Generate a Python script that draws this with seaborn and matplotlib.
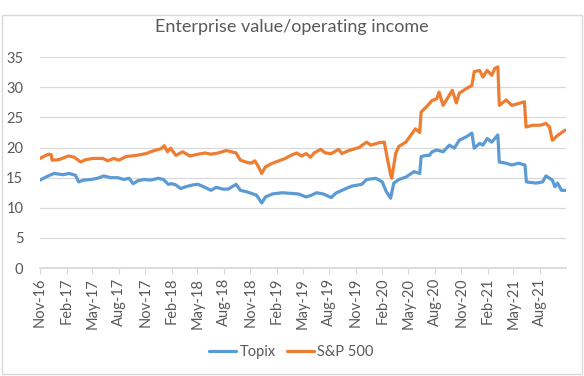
import pandas as pd
import seaborn as sns
import matplotlib.pyplot as plt
import matplotlib.dates as mdates
from matplotlib.patches import Rectangle

# values
topix_dates = [
    "2016-11-01", "2016-11-21", "2016-12-19", "2017-01-20", "2017-02-10", "2017-03-04",
    "2017-03-15", "2017-04-02", "2017-04-26", "2017-05-20", "2017-06-10", "2017-07-04",
    "2017-07-29", "2017-08-19", "2017-09-06", "2017-09-20", "2017-10-07", "2017-10-28",
    "2017-11-21", "2017-12-16", "2018-01-03", "2018-01-20", "2018-02-01", "2018-02-15",
    "2018-03-04", "2018-03-21", "2018-04-15", "2018-05-03", "2018-05-27", "2018-06-17",
    "2018-07-05", "2018-07-29", "2018-08-16", "2018-09-12", "2018-09-27", "2018-10-16",
    "2018-11-04", "2018-11-22", "2018-12-10", "2018-12-23", "2019-01-16", "2019-02-18",
    "2019-03-21", "2019-04-16", "2019-05-13", "2019-06-01", "2019-06-18", "2019-07-12",
    "2019-08-08", "2019-08-23", "2019-09-14", "2019-10-18", "2019-11-22", "2019-12-09",
    "2020-01-10", "2020-02-01", "2020-02-15", "2020-03-01", "2020-03-12", "2020-03-30",
    "2020-04-23", "2020-05-21", "2020-06-10", "2020-06-15", "2020-07-02", "2020-07-13",
    "2020-07-23", "2020-08-08", "2020-08-30", "2020-09-21", "2020-10-08", "2020-10-25",
    "2020-11-19", "2020-12-08", "2020-12-16", "2021-01-04", "2021-01-15", "2021-01-30",
    "2021-02-15", "2021-03-08", "2021-03-13", "2021-04-06", "2021-04-25", "2021-05-19",
    "2021-06-10", "2021-06-15", "2021-07-19", "2021-08-10", "2021-08-22", "2021-09-13",
    "2021-09-22", "2021-10-01", "2021-10-15", "2021-10-28",
]
topix_vals = [
    14.6, 15.1, 15.7, 15.5, 15.7, 15.4,
    14.3, 14.6, 14.7, 14.9, 15.3, 15.0,
    15.0, 14.7, 14.9, 14.0, 14.5, 14.7,
    14.6, 14.9, 14.7, 13.9, 14.0, 13.8,
    13.2, 13.5, 13.8, 13.9, 13.4, 12.9,
    13.4, 13.1, 13.1, 13.9, 12.9, 12.7,
    12.4, 12.1, 10.8, 11.8, 12.3, 12.5,
    12.4, 12.3, 11.8, 12.1, 12.5, 12.3,
    11.7, 12.4, 12.9, 13.6, 13.9, 14.7,
    14.9, 14.3, 12.7, 11.6, 14.1, 14.7,
    15.1, 16.0, 15.7, 18.5, 18.7, 18.7,
    19.3, 19.6, 19.3, 20.4, 19.9, 21.2,
    21.8, 22.4, 19.9, 20.7, 20.4, 21.5,
    20.9, 22.1, 17.6, 17.4, 17.1, 17.4,
    17.1, 14.3, 14.1, 14.3, 15.3, 14.6,
    13.5, 14.1, 12.9, 12.9,
]

sp_dates = [
    "2016-11-01", "2016-11-21", "2016-12-02", "2016-12-10", "2016-12-13", "2017-01-06",
    "2017-02-07", "2017-02-28", "2017-03-22", "2017-04-09", "2017-05-06", "2017-06-07",
    "2017-06-24", "2017-07-15", "2017-08-02", "2017-08-26", "2017-10-01", "2017-11-04",
    "2017-12-02", "2017-12-26", "2018-01-06", "2018-01-17", "2018-01-28", "2018-02-15",
    "2018-03-11", "2018-04-05", "2018-05-03", "2018-05-27", "2018-06-17", "2018-07-12",
    "2018-08-09", "2018-08-27", "2018-09-12", "2018-09-27", "2018-10-16", "2018-11-04",
    "2018-11-16", "2018-11-29", "2018-12-10", "2018-12-23", "2019-01-16", "2019-02-08",
    "2019-03-02", "2019-03-21", "2019-04-10", "2019-04-27", "2019-05-13", "2019-05-28",
    "2019-06-10", "2019-07-02", "2019-07-19", "2019-08-08", "2019-09-03", "2019-09-14",
    "2019-10-08", "2019-11-12", "2019-12-09", "2019-12-23", "2020-01-21", "2020-02-08",
    "2020-02-15", "2020-03-01", "2020-03-05", "2020-03-19", "2020-03-30", "2020-04-23",
    "2020-05-14", "2020-05-26", "2020-06-10", "2020-06-15", "2020-07-02", "2020-07-23",
    "2020-08-08", "2020-08-16", "2020-08-30", "2020-09-21", "2020-10-01", "2020-10-15",
    "2020-10-25", "2020-11-19", "2020-12-08", "2020-12-16", "2021-01-04", "2021-01-15",
    "2021-01-30", "2021-02-15", "2021-02-25", "2021-03-08", "2021-03-13", "2021-04-06",
    "2021-04-25", "2021-05-19", "2021-06-08", "2021-06-14", "2021-07-06", "2021-08-01",
    "2021-08-22", "2021-09-03", "2021-09-13", "2021-10-01", "2021-10-28",
]
sp_vals = [
    18.2, 18.7, 18.9, 18.8, 17.9, 18.0,
    18.6, 18.4, 17.6, 18.0, 18.2, 18.2,
    17.8, 18.2, 17.9, 18.5, 18.7, 19.0,
    19.5, 19.8, 20.3, 19.3, 19.9, 18.7,
    19.3, 18.6, 18.9, 19.1, 18.9, 19.1,
    19.5, 19.3, 19.1, 17.9, 17.6, 17.4,
    17.8, 16.8, 15.7, 16.8, 17.4, 17.8,
    18.2, 18.7, 19.1, 18.6, 19.0, 18.4,
    19.1, 19.7, 19.1, 19.0, 19.7, 19.0,
    19.5, 20.0, 20.9, 20.4, 20.8, 20.9,
    19.1, 15.5, 14.9, 19.1, 20.2, 20.9,
    22.3, 23.1, 22.5, 25.9, 26.7, 27.8,
    28.1, 29.2, 27.0, 28.7, 29.5, 27.4,
    29.0, 29.8, 30.3, 32.6, 32.8, 31.7,
    32.8, 32.0, 33.1, 33.4, 27.0, 27.9,
    27.0, 27.3, 27.6, 23.4, 23.7, 23.7,
    24.0, 23.4, 21.2, 22.0, 22.9,
]

df = pd.concat([
    pd.DataFrame({"date": pd.to_datetime(topix_dates), "value": topix_vals, "series": "Topix"}),
    pd.DataFrame({"date": pd.to_datetime(sp_dates), "value": sp_vals, "series": "S&P 500"}),
])

sns.set_theme(style="white")
plt.rcParams["font.family"] = ["Lato", "DejaVu Sans"]

fig = plt.figure(figsize=(5.84, 3.76), dpi=100)
ax = fig.add_axes([0.0685, 0.287, 0.9005, 0.561])

sns.lineplot(data=df, x="date", y="value", hue="series",
             palette={"Topix": "#5B9BD5", "S&P 500": "#ED7D31"},
             linewidth=2.3, ax=ax, legend=False)

ax.set_xlim(pd.Timestamp("2016-11-01"), pd.Timestamp("2021-10-30"))
ax.set_ylim(0, 35)
ax.set_yticks(range(0, 36, 5))
ax.xaxis.set_major_locator(mdates.MonthLocator(bymonth=[2, 5, 8, 11]))
ax.xaxis.set_major_formatter(mdates.DateFormatter("%b-%y"))
ax.grid(axis="y", color="#D9D9D9", linewidth=0.9)
ax.grid(axis="x", visible=False)
for s in ["top", "right", "left"]:
    ax.spines[s].set_visible(False)
ax.spines["bottom"].set_color("#D9D9D9")
ax.tick_params(axis="x", rotation=90, labelsize=10.5, colors="#595959",
               length=4, width=0.8, color="#D9D9D9", pad=3, bottom=True)
ax.tick_params(axis="y", labelsize=10.5, colors="#595959", length=0, pad=12)
ax.set_xlabel("")
ax.set_ylabel("")

fig.text(0.5, 0.928, "Enterprise value/operating income", ha="center", va="center",
         fontsize=13, color="#595959")

handles = [plt.Line2D([], [], color="#5B9BD5", lw=2.3),
           plt.Line2D([], [], color="#ED7D31", lw=2.3)]
fig.legend(handles, ["Topix", "S&P 500"], loc="center", bbox_to_anchor=(0.499, 0.064),
           ncol=2, frameon=False, fontsize=10.5, labelcolor="#595959",
           handlelength=1.85, handletextpad=0.2, columnspacing=0.8)

fig.patches.append(Rectangle((0.004, 0.004), 0.992, 0.955, transform=fig.transFigure,
                             fill=False, edgecolor="#D9D9D9", linewidth=1))

fig.savefig("out.png", dpi=100)
